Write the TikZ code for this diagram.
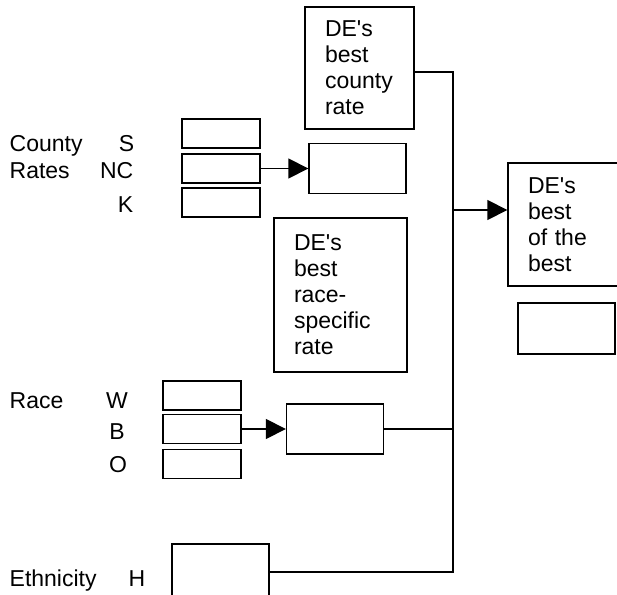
\documentclass[tikz,border=0pt]{standalone}
\usepackage{fontspec}
\setmainfont{Liberation Sans}
\usetikzlibrary{arrows.meta}
\newcommand{\ap}{\textquotesingle}

\begin{document}
\begin{tikzpicture}[x=0.75pt, y=-0.75pt, line width=1pt,
  every node/.style={font=\fontsize{17.25}{19.5}\selectfont},
  etich/.style={inner sep=0pt},
  cella/.style={draw, minimum width=58.5pt, minimum height=21.75pt, inner sep=0pt},
  esito/.style={draw, minimum width=72.75pt, minimum height=37.5pt, inner sep=0pt},
  testo/.style={draw, align=left, inner xsep=15pt, inner ysep=0pt, text width=#1},
  freccia/.style={-{Triangle[length=15pt,width=15pt]}}]
\useasboundingbox (0,0) rectangle (617,595);
% migliore tasso di contea
\node[testo=51.75pt, minimum height=91.5pt] (bcontea) at (359.5,68) {DE\ap s\\best\\county\\rate};
% tassi di contea
\node[etich, anchor=base west] (lcounty) at (9,152) {County};
\node[etich, anchor=base west] (lrates) at (9,179) {Rates};
\node[etich, anchor=base east] (ls) at (135,152) {S};
\node[etich, anchor=base east] (lnc) at (134,179) {NC};
\node[etich, anchor=base east] (lk) at (134,213) {K};
\node[cella] (cs) at (221,133.5) {};
\node[cella] (cnc) at (221,168.5) {};
\node[cella] (ck) at (221,202.5) {};
\node[esito] (cnres) at (357.5,168.5) {};
\draw[freccia] (cnc.east) -- (cnres.west);
% migliore tasso per razza
\node[testo=69.75pt, minimum height=115.5pt] (brazza) at (340.5,295) {DE\ap s\\best\\race-\\specific\\rate};
% razza
\node[etich, anchor=base west] (lrace) at (9,408) {Race};
\node[etich, anchor=base] (lw) at (117,408) {W};
\node[etich, anchor=base] (lb) at (117,439) {B};
\node[etich, anchor=base] (lo) at (118,472) {O};
\node[cella] (rw) at (202,395.5) {};
\node[cella] (rb) at (202,429) {};
\node[cella] (ro) at (202,464) {};
\node[esito] (rres) at (335,429) {};
\draw[freccia] (rb.east) -- (rres.west);
% etnia
\node[etich, anchor=base west] (leth) at (9,586) {Ethnicity};
\node[etich, anchor=base west] (lh) at (128,586) {H};
\node[esito, minimum height=42pt] (eth) at (220.5,572) {};
% migliore dei migliori
\node[testo=69pt, minimum height=92.25pt] (bmigliore) at (574,224.5) {DE\ap s\\best\\of the\\best};
\node[esito, minimum height=38.25pt] (vuoto) at (566.5,328.5) {};
% collegamenti
\coordinate (n1) at (453,72);
\coordinate (n2) at (453,210);
\draw (n1 -| bcontea.east) -- (n1) -- (n1 |- eth.east) -- (eth.east);
\draw[freccia] (n2) -- (n2 -| bmigliore.west);
\draw (rres.east) -- ([xshift=1pt]rres.east -| n1);
\end{tikzpicture}
\end{document}
